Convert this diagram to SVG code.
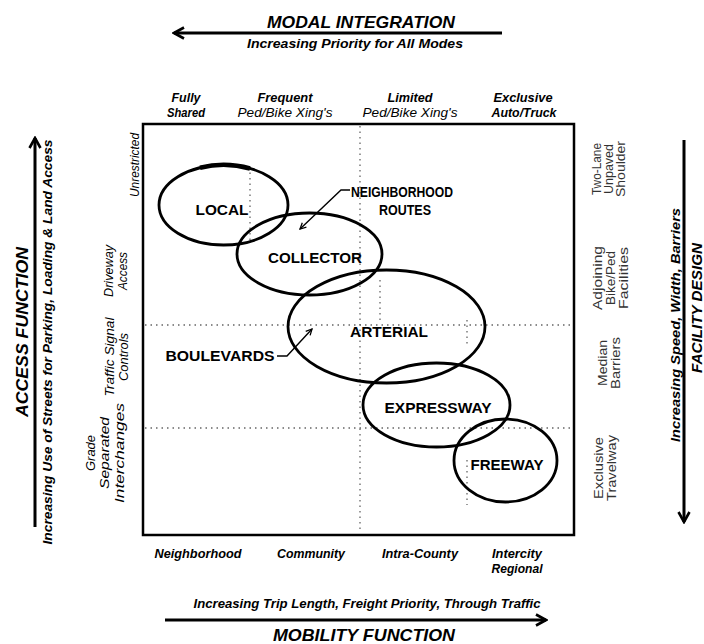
<svg xmlns="http://www.w3.org/2000/svg" width="704" height="644" viewBox="0 0 704 644">
<defs>
<style>
text{font-family:"Liberation Sans",Arial,sans-serif;fill:#000}
.title{font-size:17px;font-weight:bold;font-style:italic}
.sub{font-size:13px;font-weight:bold;font-style:italic}
.hdr{font-size:13.5px;font-weight:bold;font-style:italic}
.hdr2{font-size:13.5px;font-style:italic}
.row{font-size:12.5px;font-style:italic}
.rrow{font-size:12px;fill:#333}
.node{font-size:14px;font-weight:bold}
.ell{fill:none;stroke:#000;stroke-width:2.8}
.grid{fill:none;stroke:#666;stroke-width:1.3;stroke-dasharray:1.5 4}
.axis{fill:none;stroke:#000;stroke-width:3}
.lead{fill:none;stroke:#000;stroke-width:1.4}
</style>
<marker id="chev" viewBox="0 0 14 14" refX="12" refY="7" markerWidth="14" markerHeight="14" markerUnits="userSpaceOnUse" orient="auto">
<path d="M2,1.5 L12,7 L2,12.5" fill="none" stroke="#000" stroke-width="2.6"/>
</marker>
<marker id="small" viewBox="0 0 8 8" refX="7" refY="4" markerWidth="8" markerHeight="8" markerUnits="userSpaceOnUse" orient="auto">
<path d="M1,1 L7,4 L1,7" fill="none" stroke="#000" stroke-width="1.3"/>
</marker>
</defs>
<rect width="704" height="644" fill="#fff"/>

<g id="frame">
<rect x="143" y="124" width="431" height="411" fill="none" stroke="#000" stroke-width="2.5"/>
<line class="grid" x1="360" y1="126" x2="360" y2="533"/>
<line class="grid" x1="145" y1="325" x2="572" y2="325"/>
<line class="grid" x1="145" y1="428" x2="572" y2="428"/>
<line class="grid" x1="250" y1="167" x2="250" y2="240"/>
<line class="grid" x1="380" y1="280" x2="380" y2="320"/>
<line class="grid" x1="467" y1="320" x2="467" y2="345"/>
<line class="grid" x1="467" y1="460" x2="467" y2="505"/>
</g>

<g id="modal-integration">
<text class="title" x="361" y="28" text-anchor="middle" textLength="188" lengthAdjust="spacingAndGlyphs">MODAL INTEGRATION</text>
<text class="sub" x="355" y="48" text-anchor="middle" textLength="216" lengthAdjust="spacingAndGlyphs">Increasing Priority for All Modes</text>
</g>

<g id="access-function">
<text class="title" font-size="15" transform="translate(28,332) rotate(-90)" text-anchor="middle" textLength="170" lengthAdjust="spacingAndGlyphs">ACCESS FUNCTION</text>
<text class="sub" transform="translate(52,342) rotate(-90)" text-anchor="middle" textLength="405" lengthAdjust="spacingAndGlyphs">Increasing Use of Streets for Parking, Loading &amp; Land Access</text>
</g>

<g id="facility-design">
<text class="sub" transform="translate(680,325) rotate(-90)" text-anchor="middle" textLength="234" lengthAdjust="spacingAndGlyphs">Increasing Speed, Width, Barriers</text>
<text class="title" style="font-size:14px" transform="translate(702,308) rotate(-90)" text-anchor="middle" textLength="130" lengthAdjust="spacingAndGlyphs">FACILITY DESIGN</text>
</g>

<g id="mobility-function">
<text class="sub" x="367" y="608" text-anchor="middle" textLength="347" lengthAdjust="spacingAndGlyphs">Increasing Trip Length, Freight Priority, Through Traffic</text>
<text class="title" x="364" y="641" text-anchor="middle" textLength="182" lengthAdjust="spacingAndGlyphs">MOBILITY FUNCTION</text>
</g>

<g id="column-headers" text-anchor="middle">
<text class="hdr" x="186" y="102" textLength="29" lengthAdjust="spacingAndGlyphs">Fully</text>
<text class="hdr" x="186" y="117" textLength="38" lengthAdjust="spacingAndGlyphs">Shared</text>
<text class="hdr" x="285" y="102" textLength="55" lengthAdjust="spacingAndGlyphs">Frequent</text>
<text class="hdr2" x="285" y="117" textLength="95" lengthAdjust="spacingAndGlyphs">Ped/Bike Xing's</text>
<text class="hdr" x="410" y="102" textLength="45" lengthAdjust="spacingAndGlyphs">Limited</text>
<text class="hdr2" x="410" y="117" textLength="95" lengthAdjust="spacingAndGlyphs">Ped/Bike Xing's</text>
<text class="hdr" x="523" y="102" textLength="59" lengthAdjust="spacingAndGlyphs">Exclusive</text>
<text class="hdr" x="524" y="117" textLength="65" lengthAdjust="spacingAndGlyphs">Auto/Truck</text>
</g>

<g id="mobility-labels" text-anchor="middle">
<text class="hdr" x="198" y="558" textLength="87" lengthAdjust="spacingAndGlyphs">Neighborhood</text>
<text class="hdr" x="311" y="558" textLength="68" lengthAdjust="spacingAndGlyphs">Community</text>
<text class="hdr" x="420" y="558" textLength="76" lengthAdjust="spacingAndGlyphs">Intra-County</text>
<text class="hdr" x="517" y="558" textLength="50" lengthAdjust="spacingAndGlyphs">Intercity</text>
<text class="hdr" x="517" y="573" textLength="51" lengthAdjust="spacingAndGlyphs">Regional</text>
</g>

<g id="access-labels" text-anchor="middle">
<text class="row" transform="translate(139,165) rotate(-90)" textLength="64" lengthAdjust="spacingAndGlyphs">Unrestricted</text>
<text class="row" transform="translate(113,271) rotate(-90)" textLength="52" lengthAdjust="spacingAndGlyphs">Driveway</text>
<text class="row" transform="translate(127,271) rotate(-90)" textLength="38" lengthAdjust="spacingAndGlyphs">Access</text>
<text class="row" transform="translate(114,357) rotate(-90)" textLength="79" lengthAdjust="spacingAndGlyphs">Traffic Signal</text>
<text class="row" transform="translate(128,357) rotate(-90)" textLength="48" lengthAdjust="spacingAndGlyphs">Controls</text>
<text class="row" transform="translate(95,453) rotate(-90)" textLength="36" lengthAdjust="spacingAndGlyphs">Grade</text>
<text class="row" transform="translate(109,453) rotate(-90)" textLength="72" lengthAdjust="spacingAndGlyphs">Separated</text>
<text class="row" transform="translate(124,453) rotate(-90)" textLength="100" lengthAdjust="spacingAndGlyphs">Interchanges</text>
</g>

<g id="design-labels" text-anchor="middle">
<text class="rrow" transform="translate(601,169) rotate(-90)" textLength="52" lengthAdjust="spacingAndGlyphs">Two-Lane</text>
<text class="rrow" transform="translate(613,169) rotate(-90)" textLength="50" lengthAdjust="spacingAndGlyphs">Unpaved</text>
<text class="rrow" transform="translate(625,169) rotate(-90)" textLength="56" lengthAdjust="spacingAndGlyphs">Shoulder</text>
<text class="rrow" transform="translate(602,278) rotate(-90)" textLength="64" lengthAdjust="spacingAndGlyphs">Adjoining</text>
<text class="rrow" transform="translate(615,278) rotate(-90)" textLength="54" lengthAdjust="spacingAndGlyphs">Bike/Ped</text>
<text class="rrow" transform="translate(628,278) rotate(-90)" textLength="62" lengthAdjust="spacingAndGlyphs">Facilities</text>
<text class="rrow" transform="translate(607,363) rotate(-90)" textLength="46" lengthAdjust="spacingAndGlyphs">Median</text>
<text class="rrow" transform="translate(620,363) rotate(-90)" textLength="52" lengthAdjust="spacingAndGlyphs">Barriers</text>
<text class="rrow" transform="translate(603,468) rotate(-90)" textLength="62" lengthAdjust="spacingAndGlyphs">Exclusive</text>
<text class="rrow" transform="translate(616,468) rotate(-90)" textLength="66" lengthAdjust="spacingAndGlyphs">Travelway</text>
</g>

<g id="local">
<ellipse class="ell" cx="223.5" cy="205" rx="64.5" ry="40"/>
<path d="M200,167.7 A64.5,40 0 0 1 250,168.5" fill="none" stroke="#000" stroke-width="4.5"/>
<text class="node" x="222" y="215" text-anchor="middle" textLength="53" lengthAdjust="spacingAndGlyphs">LOCAL</text>
</g>

<g id="collector">
<ellipse class="ell" cx="309.5" cy="254" rx="72.5" ry="41"/>
<text class="node" x="315" y="263" text-anchor="middle" textLength="94" lengthAdjust="spacingAndGlyphs">COLLECTOR</text>
</g>

<g id="arterial">
<ellipse class="ell" cx="386.5" cy="326.5" rx="98.5" ry="56.5"/>
<text class="node" x="389" y="337" text-anchor="middle" textLength="78" lengthAdjust="spacingAndGlyphs">ARTERIAL</text>
</g>

<g id="expressway">
<ellipse class="ell" cx="436.5" cy="405" rx="73.5" ry="42"/>
<text class="node" x="438" y="413" text-anchor="middle" textLength="107" lengthAdjust="spacingAndGlyphs">EXPRESSWAY</text>
</g>

<g id="freeway">
<ellipse class="ell" cx="505.5" cy="460.5" rx="51.5" ry="41.5"/>
<text class="node" x="507" y="470" text-anchor="middle" textLength="73" lengthAdjust="spacingAndGlyphs">FREEWAY</text>
</g>

<g id="neighborhood-routes">
<text class="node" x="402" y="197" text-anchor="middle" textLength="102" lengthAdjust="spacingAndGlyphs">NEIGHBORHOOD</text>
<text class="node" x="405" y="215" text-anchor="middle" textLength="52" lengthAdjust="spacingAndGlyphs">ROUTES</text>
</g>

<g id="boulevards">
<text class="node" x="220" y="361" text-anchor="middle" textLength="109" lengthAdjust="spacingAndGlyphs">BOULEVARDS</text>
</g>

<g id="connectors">
<line class="axis" x1="502" y1="33" x2="174" y2="33" marker-end="url(#chev)"/>
<line class="axis" x1="35" y1="527" x2="35" y2="138" marker-end="url(#chev)"/>
<line class="axis" x1="684" y1="140" x2="684" y2="522" marker-end="url(#chev)"/>
<line class="axis" x1="165" y1="620" x2="546" y2="620" marker-end="url(#chev)"/>
<path class="lead" d="M350,190 L341,190 L300,229" marker-end="url(#small)"/>
<path class="lead" d="M277,356 L287,356 L312,329" marker-end="url(#small)"/>
</g>
</svg>
